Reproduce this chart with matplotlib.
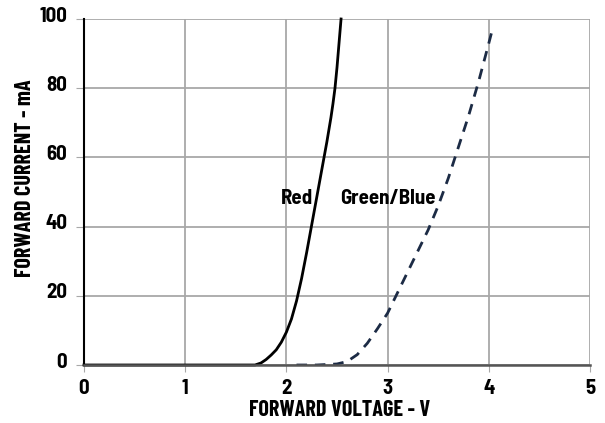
import matplotlib.pyplot as plt
from matplotlib.transforms import ScaledTranslation

plt.rcParams['font.family'] = ['Barlow Condensed', 'DejaVu Sans']
plt.rcParams['font.weight'] = 'bold'
SEMI = ['Barlow Semi Condensed', 'DejaVu Sans']

# forward voltage (V) vs forward current (mA)
red_v = [0.0, 1.6, 1.69, 1.75, 1.8, 1.85, 1.9, 1.95, 2.0, 2.05, 2.1, 2.15, 2.2, 2.25,
         2.3, 2.35, 2.4, 2.42, 2.44, 2.46, 2.48, 2.5, 2.52, 2.54]
red_i = [0.0, 0.0, 0.0, 0.6, 1.6, 2.9, 4.4, 6.6, 9.5, 13.3, 18.5, 25.0, 32.5, 40.5,
         48.5, 56.5, 64.5, 68.0, 71.5, 75.5, 80.0, 86.0, 93.0, 100.0]

gb_v = [2.1, 2.3, 2.5, 2.6, 2.7, 2.8, 2.9, 3.0, 3.1, 3.2, 3.3, 3.4, 3.5, 3.6,
        3.7, 3.8, 3.9, 4.0, 4.04]
gb_i = [0.0, 0.0, 0.3, 1.0, 3.0, 6.3, 10.5, 15.0, 21.0, 27.0, 33.0, 39.0, 46.0,
        54.0, 63.0, 72.0, 82.0, 93.0, 97.5]

x_ticks = [0, 1, 2, 3, 4, 5]
y_ticks = [0, 20, 40, 60, 80, 100]

fig = plt.figure(figsize=(6.05, 4.23), dpi=100)
ax = fig.add_axes([84 / 605, 1 - 365 / 423, 506 / 605, 346 / 423])

ax.set_xlim(0, 5)
ax.set_ylim(0, 100)
ax.set_xticks(x_ticks)
ax.set_yticks(y_ticks)
ax.grid(True, color='#a8a8a8', linewidth=1.3)
ax.set_axisbelow(True)
ax.tick_params(axis='x', length=5, color='#a8a8a8', labelsize=15, pad=5)
ax.tick_params(axis='y', length=6, color='#a8a8a8', labelsize=15, pad=6)
for lab in ax.get_xticklabels() + ax.get_yticklabels():
    lab.set_fontweight('bold')
    lab.set_family(SEMI)
# y labels sit a little above their grid lines
shift = ScaledTranslation(0, 5 / 100, fig.dpi_scale_trans)
for lab in ax.get_yticklabels():
    lab.set_transform(lab.get_transform() + shift)

for side in ['top', 'right']:
    ax.spines[side].set_visible(False)
ax.spines['left'].set_color('black')
ax.spines['left'].set_linewidth(1.5)
ax.spines['bottom'].set_color('#555555')
ax.spines['bottom'].set_linewidth(1.8)

ax.plot(red_v, red_i, color='black', linewidth=2.0, clip_on=False)
ax.plot(gb_v, gb_i, color='#1c2b45', linewidth=2.0, linestyle=(0, (3.8, 2.8)))

ax.text(2.10, 48.2, 'Red', ha='center', va='center', fontsize=15,
        fontweight='bold', family=SEMI)
ax.text(3.0, 48.2, 'Green/Blue', ha='center', va='center', fontsize=15,
        fontweight='bold', family=SEMI)

fig.text(340 / 605, 1 - 410 / 423, 'FORWARD VOLTAGE - V', ha='center', va='center',
         fontsize=16, fontweight='bold')
fig.text(25 / 605, 1 - 277 / 423, 'FORWARD CURRENT - mA', ha='center', va='bottom',
         rotation=90, fontsize=16, fontweight='bold')

fig.savefig('out.png', dpi=100)
